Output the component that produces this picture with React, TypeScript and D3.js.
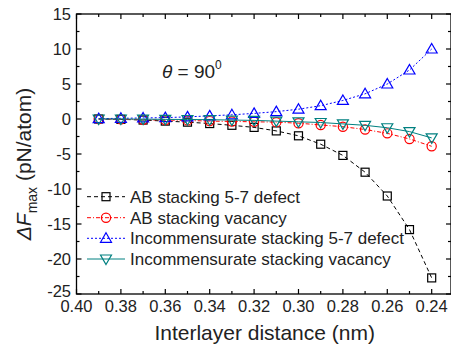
import React from "react";
import * as d3 from "d3";

const xValues = [0.39, 0.38, 0.37, 0.36, 0.35, 0.34, 0.33, 0.32, 0.31, 0.30, 0.29, 0.28, 0.27, 0.26, 0.25, 0.24];
const abDefect = [0, -0.05, -0.15, -0.3, -0.45, -0.65, -0.9, -1.2, -1.7, -2.4, -3.6, -5.2, -7.6, -11.0, -15.8, -22.7];
const abVacancy = [0, -0.05, -0.1, -0.15, -0.2, -0.3, -0.35, -0.4, -0.45, -0.6, -0.85, -1.1, -1.5, -2.05, -2.85, -3.9];
const incDefect = [0.05, 0.1, 0.15, 0.2, 0.3, 0.45, 0.6, 0.8, 1.05, 1.4, 1.9, 2.65, 3.6, 5.0, 7.0, 10.0];
const incVacancy = [0, 0, -0.02, -0.05, -0.07, -0.1, -0.15, -0.2, -0.3, -0.4, -0.5, -0.7, -0.9, -1.25, -1.8, -2.7];

const seriesNames = [
  "AB stacking 5-7 defect",
  "AB stacking vacancy",
  "Incommensurate stacking 5-7 defect",
  "Incommensurate stacking vacancy",
];
const xTicks = [0.40, 0.38, 0.36, 0.34, 0.32, 0.30, 0.28, 0.26, 0.24];
const yTicks = [15, 10, 5, 0, -5, -10, -15, -20, -25];

const W = 451, H = 352;
const L = 76.5, T = 14, R = 451, B = 294;

const x = d3.scaleLinear().domain([0.40, 0.2313]).range([L, R]);
const y = d3.scaleLinear().domain([-25, 15]).range([B, T]);

type Marker = "square" | "circle" | "up" | "down";
const series = [
  { name: seriesNames[0], values: abDefect, color: "#000000", dash: "4,3", marker: "square" as Marker },
  { name: seriesNames[1], values: abVacancy, color: "#ff0000", dash: "4,2,1,2", marker: "circle" as Marker },
  { name: seriesNames[2], values: incDefect, color: "#0000ff", dash: "2,2", marker: "up" as Marker },
  { name: seriesNames[3], values: incVacancy, color: "#008080", dash: "none", marker: "down" as Marker },
];

function MarkerShape({ kind, cx, cy, color }: { kind: Marker; cx: number; cy: number; color: string }) {
  const common = { fill: "none", stroke: color, strokeWidth: 1.2 };
  if (kind === "square") return <rect x={cx - 4} y={cy - 4} width={8} height={8} {...common} />;
  if (kind === "circle") return <circle cx={cx} cy={cy} r={4.6} {...common} />;
  if (kind === "up") {
    const p = `${cx},${cy - 5.5} ${cx + 5.5},${cy + 4} ${cx - 5.5},${cy + 4}`;
    return <polygon points={p} {...common} />;
  }
  const p = `${cx},${cy + 5.5} ${cx + 5.5},${cy - 4} ${cx - 5.5},${cy - 4}`;
  return <polygon points={p} {...common} />;
}

export default function App() {
  const line = d3.line<number>().x((_, i) => x(xValues[i])).y((d) => y(d));
  const xMinor = d3.range(0, 17).map((i) => 0.40 - i * 0.01);
  const yMinor = d3.range(0, 17).map((i) => -25 + i * 2.5);
  const font = "Arial, 'Liberation Sans', Helvetica, sans-serif";
  const txt = "#222";
  const legendY = [196.7, 217.7, 238.3, 259];
  return (
    <svg width={W} height={H} style={{ position: "absolute", left: 0, top: 0 }} fontFamily={font}>
      <rect x={0} y={0} width={W} height={H} fill="#fff" />
      {series.map((s) => (
        <g key={s.name}>
          <path d={line(s.values) || ""} fill="none" stroke={s.color} strokeWidth={1} strokeDasharray={s.dash} />
          {s.values.map((v, i) => (
            <MarkerShape key={i} kind={s.marker} cx={x(xValues[i])} cy={y(v)} color={s.color} />
          ))}
        </g>
      ))}
      <rect x={L} y={T} width={R - L} height={B - T} fill="none" stroke="#000" strokeWidth={1.3} />
      {xMinor.map((t, i) => {
        const len = i % 2 === 0 ? 5 : 3;
        const px = x(t);
        return (
          <g key={"xt" + i}>
            <line x1={px} x2={px} y1={B} y2={B - len} stroke="#000" strokeWidth={1.2} />
            <line x1={px} x2={px} y1={T} y2={T + len} stroke="#000" strokeWidth={1.2} />
          </g>
        );
      })}
      {yMinor.map((t, i) => {
        const len = i % 2 === 0 ? 5 : 3;
        const py = y(t);
        return (
          <g key={"yt" + i}>
            <line x1={L} x2={L + len} y1={py} y2={py} stroke="#000" strokeWidth={1.2} />
            <line x1={R} x2={R - len} y1={py} y2={py} stroke="#000" strokeWidth={1.2} />
          </g>
        );
      })}
      {xTicks.map((t) => (
        <text key={"xl" + t} x={x(t)} y={312} textAnchor="middle" fontSize={16.5} fill={txt}>
          {t.toFixed(2)}
        </text>
      ))}
      {yTicks.map((t) => (
        <text key={"yl" + t} x={71} y={y(t)} dy={t === -25 ? "0.2em" : "0.35em"} textAnchor="end" fontSize={16.5} fill={txt}>
          {t}
        </text>
      ))}
      <text x={264.7} y={340} textAnchor="middle" fontSize={21} fill={txt}>
        Interlayer distance (nm)
      </text>
      <text transform="translate(31,164) rotate(-90)" textAnchor="middle" fontSize={21} fill={txt}>
        <tspan fontStyle="italic">{"\u0394F"}</tspan>
        <tspan fontSize={14} dy={6}>max</tspan>
        <tspan dy={-6}>{" (pN/atom)"}</tspan>
      </text>
      <text x={162} y={78} fontSize={19} fill={txt}>
        <tspan fontStyle="italic">{"\u03B8"}</tspan>
        <tspan>{" = 90"}</tspan>
        <tspan fontSize={12} dy={-9}>0</tspan>
      </text>
      {series.map((s, i) => (
        <g key={"lg" + i}>
          <line x1={87} x2={125} y1={legendY[i]} y2={legendY[i]} stroke={s.color} strokeWidth={1} strokeDasharray={s.dash} />
          <MarkerShape kind={s.marker} cx={106} cy={legendY[i]} color={s.color} />
          <text x={130} y={legendY[i]} dy="0.35em" fontSize={17} fill={txt}>
            {s.name}
          </text>
        </g>
      ))}
    </svg>
  );
}
